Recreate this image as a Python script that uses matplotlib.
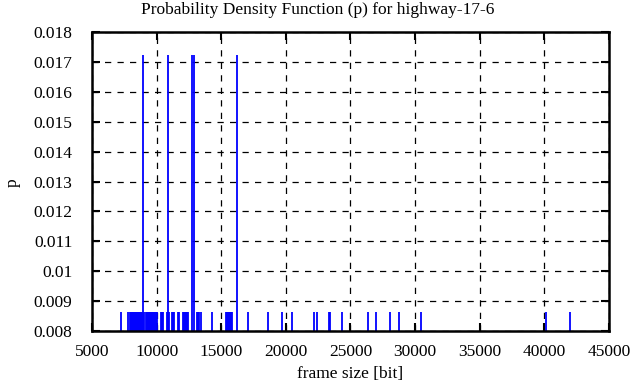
import matplotlib
matplotlib.use("Agg")
import matplotlib.pyplot as plt

# Frame sizes [bit] observed once (p = 1/116)
single_sizes = [
    7268,
    7810, 7900, 7980, 8060, 8150, 8230, 8310, 8400, 8480, 8560, 8640, 8720,
    8800, 8890, 9060, 9140, 9220, 9300, 9390, 9470, 9550, 9630, 9720, 9800,
    9880, 9960, 10040, 10300, 10380, 10460, 10780, 10930, 11150, 11230,
    11310, 11620, 11700, 12020, 12100, 12180, 12260, 12340, 12420,
    13090, 13170, 13274, 13460, 14311, 15341, 15420, 15495, 15570,
    15650, 15730, 15805, 17098, 18646, 19730, 20503, 22175, 22438, 23330,
    23430, 24319, 26331, 26950, 28057, 28730, 30433, 40108, 41965,
]
single_p = [0.00862] * len(single_sizes)

# Frame sizes [bit] observed twice (p = 2/116)
double_sizes = [8971, 10851, 12709, 12918, 16192]
double_p = [0.01724] * len(double_sizes)

xticks = [5000, 10000, 15000, 20000, 25000, 30000, 35000, 40000, 45000]
yticks = [0.008, 0.009, 0.010, 0.011, 0.012, 0.013, 0.014, 0.015, 0.016, 0.017, 0.018]
ytick_labels = ["0.008", "0.009", "0.01", "0.011", "0.012", "0.013", "0.014",
                "0.015", "0.016", "0.017", "0.018"]

plt.rcParams['font.family'] = ['Liberation Serif', 'DejaVu Serif']

fig = plt.figure(figsize=(6.36, 3.87), dpi=100)
ax = fig.add_axes([0.1447, 0.1447, 0.9575 - 0.1447, 0.9173 - 0.1447])

ax.vlines(single_sizes, 0, single_p, colors='#0000ff', linewidth=1.3, zorder=3)
ax.vlines(double_sizes, 0, double_p, colors='#0000ff', linewidth=1.3, zorder=3)

ax.set_xlim(5000, 45000)
ax.set_ylim(0.008, 0.018)
ax.set_xticks(xticks)
ax.set_xticklabels([str(t) for t in xticks])
ax.set_yticks(yticks)
ax.set_yticklabels(ytick_labels)

ax.grid(True, color='black', linestyle=(0, (5, 5)), linewidth=0.9, zorder=1)
ax.set_axisbelow(True)
ax.tick_params(direction='in', length=6, width=1.5, top=True, right=True,
               labelsize=12.5, colors='black')
ax.tick_params(axis='y', pad=14)
ax.tick_params(axis='x', pad=9)
for s in ax.spines.values():
    s.set_linewidth(1.8)
    s.set_color('black')
    s.set_zorder(5)

fig.text(0.5, 0.975, "Probability Density Function (p) for highway-17-6",
         fontsize=12.5, ha='center', va='center')
ax.set_xlabel("frame size [bit]", fontsize=12.5, labelpad=5)
fig.text(13 / 636, 1 - 183 / 387, "p", fontsize=12.5, rotation=90,
         ha='center', va='center')

fig.savefig("out.png", dpi=100)
